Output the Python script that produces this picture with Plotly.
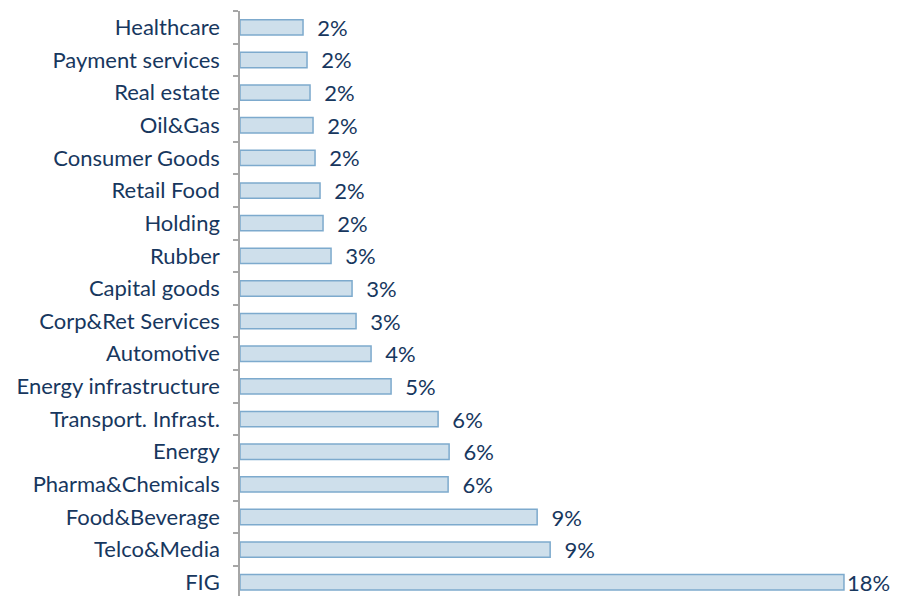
import plotly.graph_objects as go

# sectors, bottom to top
sectors = ["FIG", "Telco&Media", "Food&Beverage", "Pharma&Chemicals", "Energy",
           "Transport. Infrast.", "Energy infrastructure", "Automotive",
           "Corp&Ret Services", "Capital goods", "Rubber", "Holding",
           "Retail Food", "Consumer Goods", "Oil&Gas", "Real estate",
           "Payment services", "Healthcare"]
share = [18.11, 9.30, 8.91, 6.24, 6.27, 5.94, 4.53, 3.93, 3.48, 3.36, 2.73,
         2.49, 2.40, 2.25, 2.19, 2.10, 2.01, 1.89]

txt_col = "#17375E"
font_fam = "Century Gothic, Lato, sans-serif"

# the last label sits right against its bar so it fits on the page
pad = [""] + ["\u00a0\u00a0"] * (len(sectors) - 1)
labels = [p + "%{x:.0f}%" for p in pad]

fig = go.Figure()
fig.add_trace(go.Bar(
    y=sectors,
    x=share,
    orientation="h",
    marker=dict(color="#CEDFEB", line=dict(color="#7DAACD", width=1.5)),
    texttemplate=labels,
    textposition="outside",
    constraintext="none",
    textfont=dict(color=txt_col, size=22, family=font_fam),
    cliponaxis=False,
    hoverinfo="skip",
))

# page body has an 8px margin, so the figure is a bit smaller than the window
fig.update_layout(
    width=891, height=588,
    margin=dict(l=232, r=0, t=3, b=0),
    plot_bgcolor="white",
    paper_bgcolor="white",
    bargap=0.53,
    showlegend=False,
)
fig.update_xaxes(visible=False, range=[0, 19.76], automargin=False)
fig.update_yaxes(
    range=[-0.42, 17.5],
    automargin=False,
    showline=True, linecolor="#A6A6A6", linewidth=1.5,
    ticks="outside", tickson="boundaries", ticklen=5, tickcolor="#A6A6A6",
    tickwidth=1.5,
    ticklabelstandoff=14,
    tickfont=dict(color=txt_col, size=22, family=font_fam),
    showgrid=False,
)

fig.write_html("out.html")
